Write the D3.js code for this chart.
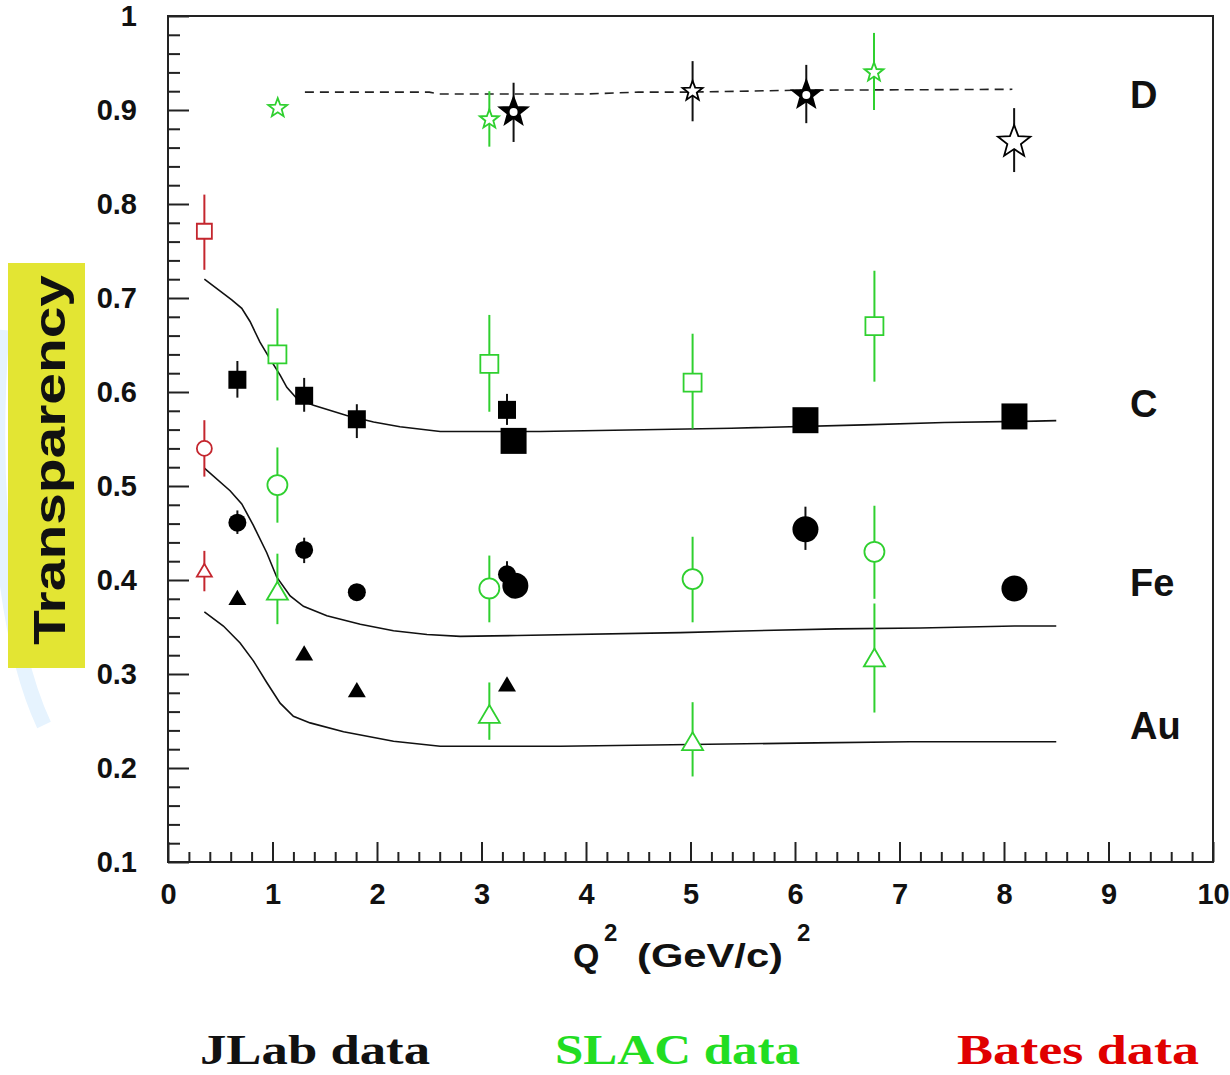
<!DOCTYPE html>
<html>
<head>
<meta charset="utf-8">
<script src="https://cdn.jsdelivr.net/npm/d3@7"></script>
<style>
  body { margin:0; background:#fff; }
  svg { display:block; }
  .tick text { font-family:"Liberation Sans", Arial, sans-serif; font-weight:bold; font-size:29px; fill:#111; }
</style>
</head>
<body>
<script>
// ---- data ----
// points: [Q2, T, errHigh, errLow]
var slacD  = [[1.05,0.902,0.907,0.897],[3.075,0.890,0.920,0.861],[6.756,0.940,0.982,0.900]];
var slacC  = [[1.047,0.640,0.689,0.591],[3.075,0.630,0.682,0.579],[5.02,0.610,0.662,0.561],[6.76,0.670,0.729,0.611]];
var slacFe = [[1.047,0.501,0.541,0.461],[3.075,0.391,0.426,0.355],[5.02,0.401,0.446,0.355],[6.76,0.430,0.479,0.380]];
var slacAu = [[1.047,0.388,0.428,0.353],[3.075,0.257,0.291,0.230],[5.02,0.228,0.270,0.191],[6.76,0.317,0.375,0.259]];

var batesC  = [[0.348,0.771,0.810,0.730]];
var batesFe = [[0.348,0.540,0.570,0.510]];
var batesAu = [[0.348,0.410,0.431,0.388]];

// jlab: [Q2, T, errHigh, errLow, big?]
var jlabD  = [[3.307,0.898,0.929,0.866,1],[5.02,0.920,0.952,0.888,0],[6.108,0.916,0.948,0.886,1],[8.097,0.866,0.902,0.834,2]];
var jlabC  = [[0.664,0.613,0.633,0.594,0],[1.303,0.596,0.615,0.579,0],[1.807,0.571,0.587,0.551,0],[3.244,0.581,0.598,0.565,0],
              [3.307,0.548,0.560,0.537,1],[6.10,0.570,0.580,0.560,1],[8.10,0.574,0.585,0.563,1]];
var jlabFe = [[0.664,0.461,0.474,0.449,0],[1.303,0.432,0.445,0.418,0],[1.807,0.387,0.395,0.378,0],[3.244,0.406,0.420,0.392,0],
              [3.324,0.394,0.405,0.383,1],[6.10,0.454,0.478,0.432,1],[8.10,0.391,0.401,0.381,1]];
var jlabAu = [[0.664,0.381,0.381,0.381,0],[1.303,0.322,0.322,0.322,0],[1.807,0.283,0.283,0.283,0],[3.244,0.289,0.289,0.289,0]];

// model curves
var curveD  = [[1.31,0.919],[2.5,0.919],[2.6,0.917],[4.0,0.917],[4.5,0.919],[5.0,0.919],[6.0,0.921],[8.08,0.922]];
var curveC  = [[0.348,0.720],[0.61,0.698],[0.706,0.689],[0.785,0.675],[0.88,0.653],[0.977,0.635],[1.073,0.618],[1.137,0.605],
               [1.233,0.593],[1.392,0.586],[1.71,0.575],[1.967,0.568],[2.22,0.563],[2.605,0.558],[3.56,0.558],[5.39,0.5615],
               [6.66,0.565],[7.43,0.5675],[8.30,0.569],[8.50,0.5695]];
var curveFe = [[0.348,0.519],[0.594,0.495],[0.706,0.481],[0.817,0.458],[0.945,0.429],[1.041,0.403],[1.169,0.383],[1.296,0.372],
               [1.52,0.362],[1.84,0.353],[2.158,0.346],[2.478,0.342],[2.797,0.340],[3.34,0.341],[4.9,0.344],[5.6,0.346],
               [6.4,0.348],[7.2,0.349],[8.1,0.351],[8.5,0.351]];
var curveAu = [[0.348,0.366],[0.53,0.351],[0.69,0.333],[0.817,0.314],[0.945,0.291],[1.073,0.269],[1.2,0.255],[1.36,0.248],
               [1.68,0.2385],[2.158,0.2285],[2.605,0.2232],[3.755,0.2232],[5.0,0.225],[6.2,0.2267],[7.1,0.228],[8.5,0.228]];

var xMajor = d3.range(0, 11, 1);
var yMajor = [0.1,0.2,0.3,0.4,0.5,0.6,0.7,0.8,0.9,1.0];
var nucleusLabels = [["D",0.917],["C",0.588],["Fe",0.398],["Au",0.245]];
var legendNames = ["JLab data","SLAC data","Bates data"];

// ---- drawing ----
var W = 1230, H = 1075;
var green = "#2fd02f", red = "#c4262e";
var svg = d3.select("body").append("svg").attr("width", W).attr("height", H);

var x = d3.scaleLinear().domain([0,10]).range([168,1213]);
var y = d3.scaleLinear().domain([0.1,1]).range([862,16]);

// faint watermark arc on the left
svg.append("path").attr("d","M 2 330 C -10 480, 4 640, 44 725")
    .attr("fill","none").attr("stroke","#e6f3fe").attr("stroke-width",15);

// y title box
svg.append("rect").attr("x",8).attr("y",263).attr("width",77).attr("height",405).attr("fill","#e3e533");
svg.append("text").attr("transform","translate(65,460) rotate(-90)")
    .attr("text-anchor","middle").attr("font-family","Liberation Sans, Arial, sans-serif")
    .attr("font-weight","bold").attr("font-size",45).attr("fill","#111")
    .attr("textLength",370).attr("lengthAdjust","spacingAndGlyphs").text("Transparency");

// axes (ticks point inward)
var xMinor = d3.range(0, 10.001, 0.2).filter(function(d){ return Math.abs(d-Math.round(d))>1e-6; });
var yMinor = d3.range(0.1, 1.0001, 0.02).filter(function(d){ return Math.abs(d*10-Math.round(d*10))>1e-6; });

svg.append("g").attr("transform","translate(0,862)")
    .call(d3.axisBottom(x).tickValues(xMajor).tickSize(-20).tickSizeOuter(0).tickPadding(21).tickFormat(d3.format("d")))
    .call(function(g){ g.select(".domain").remove(); g.selectAll("line").attr("stroke","#222").attr("stroke-width",2); });
svg.append("g").attr("transform","translate(0,862)")
    .call(d3.axisBottom(x).tickValues(xMinor).tickSize(-10).tickFormat(""))
    .call(function(g){ g.select(".domain").remove(); g.selectAll("line").attr("stroke","#222").attr("stroke-width",2); });
svg.append("g").attr("transform","translate(168,0)")
    .call(d3.axisLeft(y).tickValues(yMajor).tickSize(-21).tickPadding(31)
        .tickFormat(function(d){ return d===1 ? "1" : d.toFixed(1); }))
    .call(function(g){ g.select(".domain").remove(); g.selectAll("line").attr("stroke","#222").attr("stroke-width",2); });
svg.append("g").attr("transform","translate(168,0)")
    .call(d3.axisLeft(y).tickValues(yMinor).tickSize(-12).tickFormat(""))
    .call(function(g){ g.select(".domain").remove(); g.selectAll("line").attr("stroke","#222").attr("stroke-width",2); });

// frame
svg.append("rect").attr("x",x(0)).attr("y",y(1)).attr("width",x(10)-x(0)).attr("height",y(0.1)-y(1))
    .attr("fill","none").attr("stroke","#222").attr("stroke-width",2);

// x title
var tf = "Liberation Sans, Arial, sans-serif";
svg.append("text").attr("x",573).attr("y",967).attr("font-family",tf).attr("font-weight","bold").attr("font-size",34).attr("fill","#111").text("Q");
svg.append("text").attr("x",604).attr("y",941).attr("font-family",tf).attr("font-weight","bold").attr("font-size",24).attr("fill","#111").text("2");
svg.append("text").attr("x",637).attr("y",967).attr("font-family",tf).attr("font-weight","bold").attr("font-size",34).attr("fill","#111")
    .attr("textLength",146).attr("lengthAdjust","spacingAndGlyphs").text("(GeV/c)");
svg.append("text").attr("x",797).attr("y",941).attr("font-family",tf).attr("font-weight","bold").attr("font-size",24).attr("fill","#111").text("2");

// model curves
var line = d3.line().x(function(d){ return x(d[0]); }).y(function(d){ return y(d[1]); });
[curveC, curveFe, curveAu].forEach(function(c){
    svg.append("path").attr("d", line(c)).attr("fill","none").attr("stroke","#111").attr("stroke-width",1.6);
});
svg.append("path").attr("d", line(curveD)).attr("fill","none").attr("stroke","#222")
    .attr("stroke-width",1.6).attr("stroke-dasharray","9,6");

// marker shapes
function shape(kind, s){
    var h = s/2;
    if (kind=="square") return "M"+(-h)+","+(-h)+"H"+h+"V"+h+"H"+(-h)+"Z";
    if (kind=="circle") return "M"+(-h)+",0A"+h+","+h+" 0 1,0 "+h+",0A"+h+","+h+" 0 1,0 "+(-h)+",0Z";
    if (kind=="triangle") return "M0,"+(-h*0.9)+"L"+h+","+(h*0.8)+"L"+(-h)+","+(h*0.8)+"Z";
    var p = [];
    for (var i=0;i<10;i++){
        var r = i%2 ? h*0.42 : h, a = -Math.PI/2 + i*Math.PI/5;
        p.push([r*Math.cos(a), r*Math.sin(a)]);
    }
    return "M"+p.join("L")+"Z";
}

function errbars(data, color){
    svg.append("g").selectAll("line").data(data).enter().append("line")
        .attr("x1",function(d){ return x(d[0]); }).attr("x2",function(d){ return x(d[0]); })
        .attr("y1",function(d){ return y(d[2]); }).attr("y2",function(d){ return y(d[3]); })
        .attr("stroke",color).attr("stroke-width",2);
}

function openMarks(data, kind, size, color){
    errbars(data, color);
    svg.append("g").selectAll("path").data(data).enter().append("path")
        .attr("transform",function(d){ return "translate("+x(d[0])+","+y(d[1])+")"; })
        .attr("d", shape(kind,size)).attr("fill","#fff").attr("stroke",color).attr("stroke-width",1.8);
}

function jlabMarks(data, kind){
    errbars(data, "#111");
    svg.append("g").selectAll("path").data(data).enter().append("path")
        .attr("transform",function(d){ return "translate("+x(d[0])+","+y(d[1])+")"; })
        .attr("d",function(d){ return shape(kind, d[4] ? 26 : 18); })
        .attr("fill","#000");
}

// SLAC
openMarks(slacC, "square", 18, green);
openMarks(slacFe, "circle", 20, green);
openMarks(slacAu, "triangle", 21, green);
openMarks(slacD, "star", 20, green);
// Bates
openMarks(batesC, "square", 15, red);
openMarks(batesFe, "circle", 15, red);
openMarks(batesAu, "triangle", 15, red);
// JLab
jlabMarks(jlabC, "square");
jlabMarks(jlabFe, "circle");
jlabMarks(jlabAu, "triangle");

errbars(jlabD, "#111");
var stars = svg.append("g").selectAll("g").data(jlabD).enter().append("g")
    .attr("transform",function(d){ return "translate("+x(d[0])+","+y(d[1])+")"; });
stars.append("path")
    .attr("d",function(d){ return shape("star", d[4]==1 ? 29 : d[4]==2 ? 34 : 21); })
    .attr("fill",function(d){ return d[4]==1 ? "#000" : "#fff"; })
    .attr("stroke","#000").attr("stroke-width",function(d){ return d[4]==1 ? 2 : 1.8; });
stars.filter(function(d){ return d[4]==1; }).append("circle").attr("r",4).attr("fill","#fff");

// nucleus labels
svg.append("g").selectAll("text").data(nucleusLabels).enter().append("text")
    .attr("x",1130).attr("y",function(d){ return y(d[1]); }).attr("dy","0.36em")
    .attr("font-family",tf).attr("font-weight","bold").attr("font-size",38).attr("fill","#111")
    .text(function(d){ return d[0]; });

// bottom legend
var legendX = [200, 555, 957], legendW = [230, 245, 242], legendC = ["#111", "#22dd22", "#e00000"];
svg.append("g").selectAll("text").data(legendNames).enter().append("text")
    .attr("x",function(d,i){ return legendX[i]; }).attr("y",1064)
    .attr("font-family","Liberation Serif, Times New Roman, serif").attr("font-weight","bold").attr("font-size",42)
    .attr("fill",function(d,i){ return legendC[i]; })
    .attr("textLength",function(d,i){ return legendW[i]; }).attr("lengthAdjust","spacingAndGlyphs")
    .text(function(d){ return d; });
</script>
</body>
</html>
